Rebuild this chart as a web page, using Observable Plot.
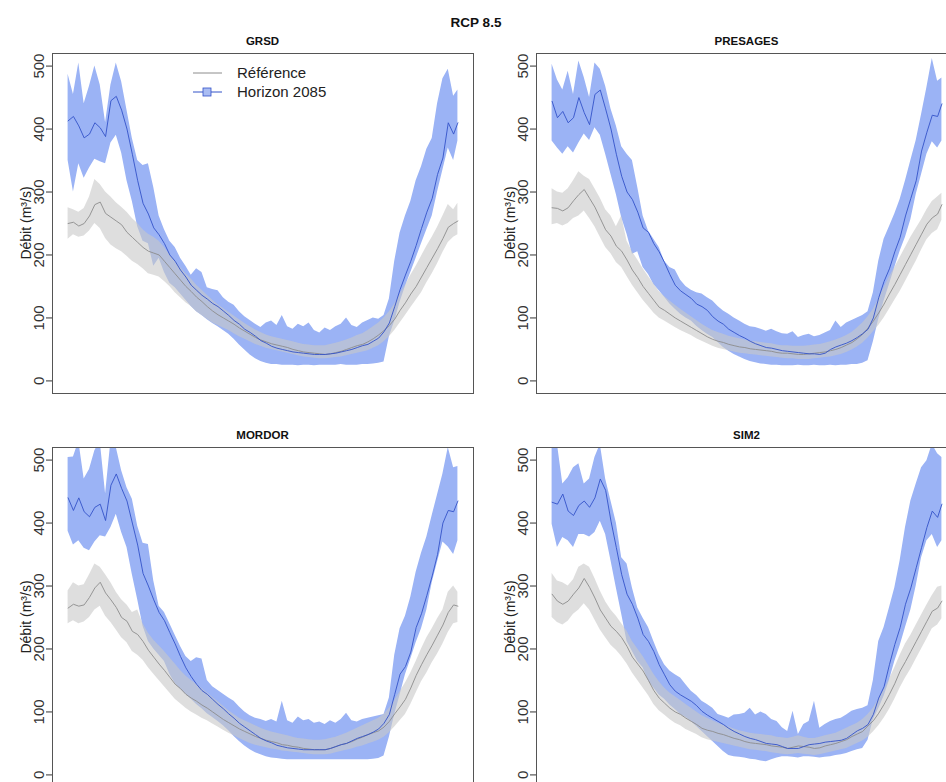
<!DOCTYPE html>
<html><head><meta charset="utf-8">
<script src="https://cdn.jsdelivr.net/npm/d3@7"></script>
<script src="https://cdn.jsdelivr.net/npm/@observablehq/plot@0.6"></script>
<style>
body{margin:0;background:#fff;font-family:"Liberation Sans",Arial,sans-serif;}
#wrap{position:relative;width:946px;height:782px;overflow:hidden;background:#fff;}
.panel{position:absolute;}
.title{position:absolute;font-weight:bold;transform:translate(-50%,-50%);white-space:nowrap;color:#111;line-height:1;}
.ylab{position:absolute;font-size:14px;color:#222;white-space:nowrap;line-height:1;transform:translate(-50%,-50%) rotate(-90deg);}
</style>
</head><body>
<div id="wrap"></div>
<script>
// ---- data (day of year, discharge in m3/s) ----
const days = [1,6,11,16,21,26,31,36,41,46,
  51,56,61,66,71,76,81,86,91,96,
  101,106,111,116,121,126,131,136,141,146,
  151,156,161,166,171,176,181,186,191,196,
  201,206,211,216,221,226,231,236,241,246,
  251,256,261,266,271,276,281,286,291,296,
  301,306,311,316,321,326,331,336,341,346,
  351,356,361,365];
const yTicks = [0,100,200,300,400,500];
const panelNames = ["GRSD","PRESAGES","MORDOR","SIM2"];
const seriesNames = ["Référence","Horizon 2085"];
const mainTitle = "RCP 8.5";
const yLabel = "Débit (m³/s)";

// GRSD
const grsdFutMed = [413,420,405,386,392,410,402,388,445,452,
  430,400,360,318,282,265,243,232,218,200,
  190,176,165,152,144,136,130,123,118,111,
  104,96,90,82,77,71,64,60,55,52,
  50,48,46,45,44,43,42,42,42,43,
  44,46,48,50,53,56,58,63,68,78,
  92,118,145,168,190,215,242,268,290,328,
  354,410,392,410];
const grsdFutHi = [487,455,505,440,468,500,470,410,470,505,
  475,430,385,350,342,345,307,262,240,222,
  212,195,182,168,178,172,148,145,143,132,
  125,120,110,102,96,90,85,92,95,88,
  104,86,82,90,86,92,80,76,84,80,
  86,90,100,88,85,92,96,100,98,104,
  130,190,235,262,285,318,340,368,385,440,
  480,495,452,462];
const grsdFutLo = [350,300,345,322,338,352,348,345,378,390,
  362,318,285,245,222,218,182,195,172,155,
  148,138,128,118,110,104,97,91,86,80,
  74,66,57,49,41,35,31,28,26,26,
  25,25,25,24,25,25,24,25,25,25,
  25,26,25,25,25,26,26,27,28,30,
  70,95,125,150,172,195,218,240,262,300,
  335,370,350,381];
const grsdRefMed = [250,252,246,250,262,280,284,266,260,254,
  248,236,228,220,212,206,203,200,190,180,
  170,160,150,142,133,126,118,111,105,100,
  95,90,84,79,74,69,65,62,59,57,
  55,53,50,48,46,45,44,43,42,43,
  45,47,50,53,56,58,62,67,73,80,
  88,98,112,124,138,150,165,180,195,210,
  226,244,250,254];
const grsdRefHi = [275,272,268,274,292,320,312,300,292,283,
  276,268,258,250,240,233,228,222,212,200,
  190,180,170,162,152,144,136,128,121,115,
  109,103,97,91,86,81,77,73,70,68,
  66,64,62,60,58,57,56,56,56,58,
  60,62,65,68,72,75,80,86,92,100,
  110,122,138,152,168,182,198,214,228,244,
  262,280,272,282];
const grsdRefLo = [225,232,228,230,238,250,242,226,216,210,
  205,198,190,185,178,170,168,165,158,150,
  140,132,124,118,110,104,98,92,88,84,
  80,75,70,66,62,58,55,52,50,48,
  46,44,42,40,38,37,36,35,35,36,
  37,38,40,42,44,46,48,52,56,62,
  70,80,92,104,116,128,140,156,170,186,
  204,220,228,232];

// PRESAGES
const presFutMed = [444,418,428,410,418,450,426,407,455,462,
  432,400,360,325,300,288,268,243,236,218,
  205,188,169,152,143,137,131,122,118,112,
  102,95,90,82,77,72,68,63,59,56,
  53,52,50,48,47,46,45,44,43,43,
  42,44,50,54,57,60,64,69,75,82,
  100,132,158,178,205,228,262,290,318,365,
  395,422,420,440];
const presFutHi = [503,478,462,492,455,508,482,450,505,495,
  468,432,405,372,360,350,307,262,238,225,
  212,190,180,176,160,150,144,140,138,132,
  127,118,111,106,100,95,90,86,85,82,
  79,82,78,75,74,78,69,72,74,70,
  72,76,80,95,85,92,96,100,104,110,
  140,190,225,245,265,288,318,350,382,423,
  466,512,476,481];
const presFutLo = [381,370,360,372,362,378,392,382,402,390,
  360,328,296,259,233,201,205,180,169,153,
  143,133,122,114,106,100,95,87,80,74,
  69,61,53,47,42,38,34,31,29,27,
  26,25,25,24,24,24,25,24,24,25,
  24,24,25,24,25,25,26,26,28,32,
  62,98,127,153,180,206,228,256,296,328,
  360,380,370,381];
const presRefMed = [275,274,270,275,286,296,304,290,276,258,
  240,230,214,206,192,176,164,150,139,128,
  117,112,106,100,95,90,85,80,75,70,
  66,63,61,58,56,54,53,51,50,49,
  48,47,45,44,44,43,42,42,43,44,
  45,46,48,50,53,57,61,67,74,84,
  95,108,122,138,153,169,185,201,217,233,
  249,259,265,280];
const presRefHi = [305,300,298,305,318,332,325,320,305,290,
  272,262,245,262,222,205,192,178,166,154,
  142,134,127,120,114,108,102,96,90,85,
  80,77,74,71,69,67,65,63,62,61,
  60,59,57,56,56,55,55,55,56,57,
  58,60,62,65,68,72,77,84,92,102,
  114,130,148,165,180,196,212,228,242,256,
  272,285,292,298];
const presRefLo = [248,250,246,250,258,262,270,258,245,228,
  212,202,188,180,166,152,140,128,118,108,
  100,95,90,85,80,76,72,67,63,59,
  55,52,50,48,46,44,43,42,41,40,
  39,38,37,36,35,35,34,34,34,35,
  36,37,38,40,42,45,49,54,60,68,
  78,88,100,114,128,142,158,174,190,208,
  224,234,240,255];

// MORDOR
const mordFutMed = [440,420,440,418,410,425,430,404,460,478,
  455,435,400,365,320,300,278,258,245,226,
  208,188,170,156,144,134,128,120,112,105,
  97,90,82,76,70,64,58,54,51,47,
  45,43,42,41,40,40,40,40,40,42,
  45,48,50,54,58,61,64,68,73,82,
  96,128,160,172,195,234,256,285,316,350,
  400,420,418,435];
const mordFutHi = [504,505,530,470,485,515,530,446,530,520,
  483,456,438,395,368,366,308,268,258,240,
  222,204,188,180,186,184,150,140,134,128,
  122,117,108,100,94,90,88,85,88,84,
  117,86,82,92,86,88,82,84,80,86,
  82,88,98,86,84,88,90,92,94,96,
  122,190,232,252,282,322,352,378,412,445,
  478,520,488,490];
const mordFutLo = [387,365,372,360,356,370,380,378,393,414,
  385,361,318,278,236,212,200,190,180,160,
  145,136,128,120,112,105,97,91,85,78,
  70,61,53,46,40,35,32,29,27,26,
  25,24,24,24,24,24,24,24,24,24,
  24,24,24,24,24,24,24,25,26,30,
  60,96,127,159,184,210,232,262,305,338,
  370,362,350,372];
const mordRefMed = [265,271,268,270,282,297,306,289,278,266,
  250,244,228,223,212,198,187,176,166,155,
  144,137,128,122,117,111,106,100,94,88,
  83,78,73,69,65,61,58,55,53,51,
  48,47,45,44,42,41,40,40,40,42,
  45,48,50,53,57,60,64,67,70,76,
  85,97,108,120,138,158,175,191,206,222,
  238,258,270,268];
const mordRefHi = [292,305,300,302,318,335,330,318,305,290,
  278,270,258,262,240,225,214,205,196,186,
  176,166,157,150,144,137,130,123,116,109,
  102,96,90,86,82,78,74,71,68,66,
  64,62,60,58,57,56,55,55,56,58,
  60,63,66,70,74,78,82,86,90,96,
  106,118,132,146,162,180,200,218,232,248,
  262,290,300,290];
const mordRefLo = [240,245,240,243,250,262,268,252,242,230,
  218,210,196,190,182,170,160,150,140,130,
  120,113,106,100,95,90,86,81,76,71,
  66,62,58,54,50,47,45,43,41,40,
  38,37,36,35,34,33,32,32,32,33,
  35,37,39,41,44,46,49,52,55,60,
  67,76,86,96,112,130,148,162,178,192,
  208,226,240,242];

// SIM2
const sim2FutMed = [433,430,446,419,412,428,435,425,440,470,
  452,403,361,318,287,271,249,223,212,196,
  175,159,143,133,127,122,117,110,101,95,
  90,85,80,74,69,65,61,58,56,53,
  50,49,48,45,42,42,42,45,48,49,
  50,52,53,54,55,58,64,70,74,80,
  96,122,140,175,207,234,271,297,329,361,
  393,419,409,430];
const sim2FutHi = [520,525,462,472,488,494,462,470,504,525,
  470,435,400,345,335,297,265,249,234,212,
  191,175,165,159,154,143,133,126,117,112,
  106,96,93,90,95,96,98,106,95,100,
  96,88,85,75,69,101,64,80,85,117,
  74,80,85,88,90,95,101,104,106,110,
  150,212,234,265,297,340,393,435,462,488,
  499,525,510,504];
const sim2FutLo = [398,361,377,372,361,382,382,378,385,403,
  382,340,297,255,212,196,180,170,149,138,
  127,120,111,104,96,91,85,77,69,61,
  53,45,37,31,29,28,27,25,24,22,
  21,24,27,29,29,28,27,29,29,28,
  27,28,29,31,32,34,37,40,42,55,
  88,105,125,150,180,205,234,262,300,345,
  372,382,361,372];
const sim2RefMed = [287,276,271,276,287,297,312,298,281,262,
  249,236,228,218,204,187,176,165,150,134,
  122,114,106,100,96,90,85,80,74,71,
  69,66,64,61,58,56,53,51,50,49,
  48,46,45,44,42,44,46,45,44,42,
  43,46,48,50,53,56,61,65,69,78,
  86,98,112,128,145,165,180,196,212,228,
  244,260,265,276];
const sim2RefHi = [320,308,305,300,310,330,335,330,312,292,
  275,262,252,240,228,212,200,188,174,160,
  148,138,130,124,118,112,106,100,94,90,
  86,82,79,76,73,70,68,66,65,64,
  63,62,60,59,58,60,62,60,58,58,
  60,62,64,66,70,74,78,82,88,96,
  106,120,135,152,170,190,208,222,238,254,
  270,285,298,300];
const sim2RefLo = [250,242,238,244,255,262,272,262,246,230,
  218,206,198,188,176,162,150,138,126,112,
  102,95,88,82,78,72,68,64,59,56,
  54,52,50,48,46,44,42,40,39,38,
  37,35,34,33,32,33,34,33,32,31,
  32,34,36,38,40,42,46,50,54,60,
  68,78,90,104,120,138,154,168,184,200,
  216,232,238,248];

// ---- drawing ----
const blueFill = "#9bb3f5", blueLine = "#3352c8";
const greyFill = "#c8c8c8", greyLine = "#8c8c8c";
const frameW = 421, frameH = 340, mL = 52, mR = 12;
const xDomain = [1 - 364*0.04, 365 + 364*0.04];
const yDomain = [-20, 520];
const wrap = document.getElementById("wrap");

function addDiv(cls, text, x, y, extra) {
  const d = document.createElement("div");
  d.className = cls; d.textContent = text;
  d.style.left = x + "px"; d.style.top = y + "px";
  if (extra) Object.assign(d.style, extra);
  wrap.appendChild(d);
  return d;
}

function panel(name, refMed, refLo, refHi, futMed, futLo, futHi, frameLeft, frameTop) {
  const rows = days.map((d, i) => ({day: d, rm: refMed[i], rl: refLo[i], rh: refHi[i],
                                    fm: futMed[i], fl: futLo[i], fh: futHi[i]}));
  const chart = Plot.plot({
    width: mL + frameW + mR, height: frameH + 2,
    marginLeft: mL, marginRight: mR, marginTop: 1, marginBottom: 1,
    style: {fontSize: "15px", fontFamily: "Liberation Sans, Arial, sans-serif", color: "#333", background: "transparent", overflow: "visible"},
    x: {domain: xDomain, axis: null},
    y: {domain: yDomain, ticks: yTicks, tickRotate: -90, tickSize: 6, tickPadding: 3, label: null, tickFormat: d => String(d)},
    marks: [
      Plot.areaY(rows, {x: "day", y1: "fl", y2: "fh", fill: blueFill, clip: true}),
      Plot.areaY(rows, {x: "day", y1: "rl", y2: "rh", fill: greyFill, fillOpacity: 0.6, clip: true}),
      Plot.lineY(rows, {x: "day", y: "rm", stroke: greyLine, strokeWidth: 0.9, clip: true}),
      Plot.lineY(rows, {x: "day", y: "fm", stroke: blueLine, strokeWidth: 0.9, clip: true}),
      Plot.frame({stroke: "#555", strokeWidth: 1})
    ]
  });
  chart.classList.add("panel");
  chart.style.left = (frameLeft - mL) + "px";
  chart.style.top = (frameTop - 1) + "px";
  wrap.appendChild(chart);
  addDiv("title", name, frameLeft + frameW / 2, frameTop - 11, {fontSize: "11.5px"});
  addDiv("ylab", yLabel, frameLeft - 26, frameTop + frameH / 2);
}

addDiv("title", mainTitle, 476, 23, {fontSize: "13.5px"});
panel(panelNames[0], grsdRefMed, grsdRefLo, grsdRefHi, grsdFutMed, grsdFutLo, grsdFutHi, 52, 53);
panel(panelNames[1], presRefMed, presRefLo, presRefHi, presFutMed, presFutLo, presFutHi, 536, 53);
panel(panelNames[2], mordRefMed, mordRefLo, mordRefHi, mordFutMed, mordFutLo, mordFutHi, 52, 447);
panel(panelNames[3], sim2RefMed, sim2RefLo, sim2RefHi, sim2FutMed, sim2FutLo, sim2FutHi, 536, 447);

// legend inside the first panel
const ns = "http://www.w3.org/2000/svg";
const lg = document.createElementNS(ns, "svg");
lg.setAttribute("width", 160); lg.setAttribute("height", 40);
lg.style.position = "absolute"; lg.style.left = "188px"; lg.style.top = "62px";
lg.innerHTML =
  `<line x1="5" x2="34" y1="11" y2="11" stroke="${greyLine}" stroke-width="1"/>` +
  `<line x1="5" x2="34" y1="30" y2="30" stroke="${blueLine}" stroke-width="1"/>` +
  `<rect x="15" y="26" width="8" height="8" fill="#aabdf3" stroke="${blueLine}" stroke-width="0.8"/>` +
  `<text x="49" y="11" dy="0.35em" font-size="15" fill="#222" font-family="Liberation Sans, Arial, sans-serif">${seriesNames[0]}</text>` +
  `<text x="49" y="30" dy="0.35em" font-size="15" fill="#222" font-family="Liberation Sans, Arial, sans-serif">${seriesNames[1]}</text>`;
wrap.appendChild(lg);
</script>
</body></html>
